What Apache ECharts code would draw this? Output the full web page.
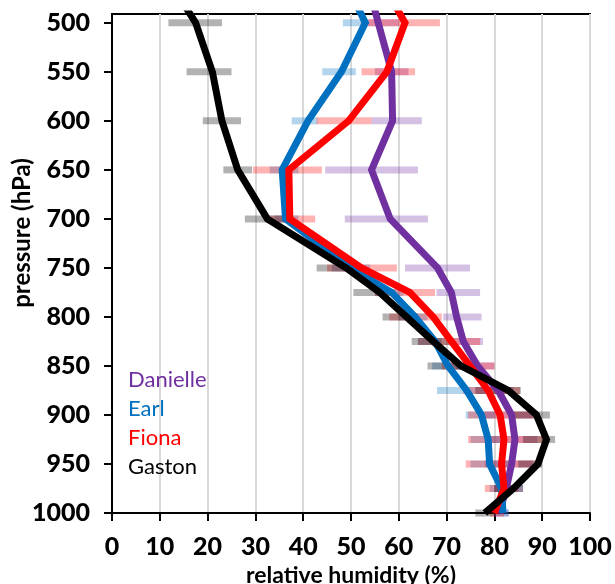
<!DOCTYPE html>
<html>
<head>
<meta charset="utf-8">
<script src="https://cdn.jsdelivr.net/npm/echarts@6/dist/echarts.min.js"></script>
<style>html,body{margin:0;padding:0;background:#fff}#c{width:615px;height:584px}</style>
</head>
<body>
<div id="c"></div>
<script>
// pressure levels (hPa) of the profiles; 450 is only the clipped stub above the frame
const levels = [450, 500, 550, 600, 650, 700, 750, 775, 800, 825, 850, 875, 900, 925, 950, 975, 1000];
const danielle = [53, 55.7, 58.5, 58.7, 54.3, 58.2, 68.1, 71, 72.1, 73.5, 76.5, 80.8, 83.6, 84.3, 83.6, 82.5, 81];
const earl     = [48, 53, 48, 41, 35.6, 36.3, 50, 58.5, 63.4, 67.6, 70.3, 74.2, 77.3, 78.7, 79, 81.5, 81.8];
const fiona    = [55.5, 61.3, 57.5, 49.5, 37, 37.2, 52.2, 62.3, 67.2, 71, 74.9, 78.7, 81.2, 82, 81.5, 82, 80];
const gaston   = [11, 17.5, 21, 23, 26.3, 32.5, 49, 56, 61.6, 67.2, 73, 82.9, 88.8, 90.9, 89.1, 84, 78];

// spread bars (levels 500..1000)
const barLevels = [500, 550, 600, 650, 700, 750, 775, 800, 825, 850, 875, 900, 925, 950, 975, 1000];
const danielleLow  = [52, 55, 54.3, 44.6, 48.7, 61.3, 67.9, 69.3, 70.7, 72, 76, 78, 78, 78, 80, 80];
const danielleHigh = [60, 62, 64.8, 64, 66.1, 74.9, 77, 77.3, 77.6, 80, 84, 88, 89, 88, 86, 83];
const earlLow  = [48.3, 44, 37.6, 33, 34, 46, 55, 60, 64, 67, 68, 74, 75, 75, 79, 80];
const earlHigh = [53, 51, 43, 39, 39, 54, 61, 66, 69, 73, 76, 80, 82, 83, 83, 83];
const fionaLow  = [53.6, 52.2, 42.8, 29.5, 33, 45, 55, 58, 64, 69, 73.5, 74.5, 74.5, 74, 78, 79];
const fionaHigh = [68.6, 63.4, 54.3, 43.9, 42.5, 59.6, 67.6, 69, 77, 80, 85.4, 88.8, 91, 88.8, 85, 82];
const gastonLow  = [11.8, 15.6, 19, 23.3, 27.8, 42.8, 50.5, 56.6, 62.7, 66, 76, 84, 86, 85, 80, 76];
const gastonHigh = [23, 25, 27, 29.3, 36, 52, 58, 64, 70.7, 73, 85.5, 91.6, 92.7, 90, 86, 80];

const xTicks = [0, 10, 20, 30, 40, 50, 60, 70, 80, 90, 100];
const yTicks = [500, 550, 600, 650, 700, 750, 800, 850, 900, 950, 1000];

const FONT = 'Lato';
const storms = [
  {name: 'Danielle', color: '#7030A0', band: 'rgba(112,48,160,0.3)', vals: danielle, lo: danielleLow, hi: danielleHigh},
  {name: 'Earl', color: '#0070C0', band: 'rgba(0,112,192,0.3)', vals: earl, lo: earlLow, hi: earlHigh},
  {name: 'Fiona', color: '#FF0000', band: 'rgba(255,0,0,0.3)', vals: fiona, lo: fionaLow, hi: fionaHigh},
  {name: 'Gaston', color: '#000000', band: 'rgba(0,0,0,0.3)', vals: gaston, lo: gastonLow, hi: gastonHigh}
];

function bandRender(color) {
  return function (params, api) {
    const a = api.coord([api.value(0), api.value(2)]);
    const b = api.coord([api.value(1), api.value(2)]);
    const h = 7;
    return {type: 'rect', shape: {x: a[0], y: a[1] - h / 2, width: b[0] - a[0], height: h}, style: {fill: color}};
  };
}

const series = [];
storms.forEach(s => {
  series.push({
    type: 'custom', name: s.name + ' range', xAxisIndex: 0, yAxisIndex: 0, z: 1,
    renderItem: bandRender(s.band), encode: {x: [0, 1], y: 2},
    data: barLevels.map((p, i) => [s.lo[i], s.hi[i], p]), silent: true
  });
});
storms.forEach((s, k) => {
  series.push({
    type: 'line', name: s.name, xAxisIndex: 0, yAxisIndex: 0, z: 2 + k,
    showSymbol: false, symbol: 'none', clip: true, animation: false,
    lineStyle: {color: s.color, width: 7, join: 'miter'}, itemStyle: {color: s.color},
    data: levels.map((p, i) => [s.vals[i], p])
  });
});

const plain = v => String(v);

const chart = echarts.init(document.getElementById('c'), null, {renderer: 'canvas'});
chart.setOption({
  animation: false,
  backgroundColor: '#fff',
  textStyle: {fontFamily: FONT},
  grid: [
    {left: 112, right: 25, top: 14, bottom: 71, show: true, borderColor: '#000', borderWidth: 2,
     backgroundColor: 'transparent', containLabel: false, outerBoundsMode: 'none'},
    {left: 112, right: 25, top: 22.7, bottom: 71, containLabel: false, outerBoundsMode: 'none'}
  ],
  legend: {
    orient: 'vertical', left: 123, top: 369, itemGap: 7, itemWidth: 0, itemHeight: 22, icon: 'none',
    selectedMode: false, padding: 0,
    textStyle: {fontFamily: FONT, fontSize: 22, padding: 0},
    data: storms.map(s => ({name: s.name, textStyle: {color: s.color}}))
  },
  xAxis: [
    {
      type: 'value', gridIndex: 0, min: xTicks[0], max: xTicks[xTicks.length - 1], interval: 10,
      axisLine: {show: true, lineStyle: {color: '#000', width: 2}},
      axisTick: {show: true, inside: false, length: 8, lineStyle: {color: '#000', width: 2}},
      axisLabel: {color: '#000', fontFamily: FONT, fontWeight: 900, fontSize: 25, margin: 21, formatter: plain},
      splitLine: {show: true, lineStyle: {color: '#d9d9d9', width: 2}},
      name: 'relative humidity (%)', nameLocation: 'middle', nameGap: 43,
      nameTextStyle: {color: '#000', fontFamily: FONT, fontWeight: 'bold', fontSize: 23}
    },
    {type: 'value', gridIndex: 1, min: 0, max: 100, show: false}
  ],
  yAxis: [
    {
      type: 'value', gridIndex: 0, min: 491, max: 1000, inverse: true,
      axisLine: {show: true, lineStyle: {color: '#000', width: 2}},
      axisTick: {show: false}, axisLabel: {show: false}, splitLine: {show: false}
    },
    {
      type: 'value', gridIndex: 1, min: yTicks[0], max: yTicks[yTicks.length - 1], interval: 50, inverse: true,
      axisLine: {show: false},
      axisTick: {show: true, inside: false, length: 8, lineStyle: {color: '#000', width: 2}},
      axisLabel: {color: '#000', fontFamily: FONT, fontWeight: 900, fontSize: 25, margin: 22, formatter: plain},
      splitLine: {show: false}
    }
  ],
  graphic: [{
    type: 'text', x: 22, y: 233, rotation: Math.PI / 2,
    style: {text: 'pressure (hPa)', fill: '#000', font: 'bold 24px Lato', textAlign: 'center', textVerticalAlign: 'middle'}
  }],
  series: series
});
</script>
</body>
</html>
